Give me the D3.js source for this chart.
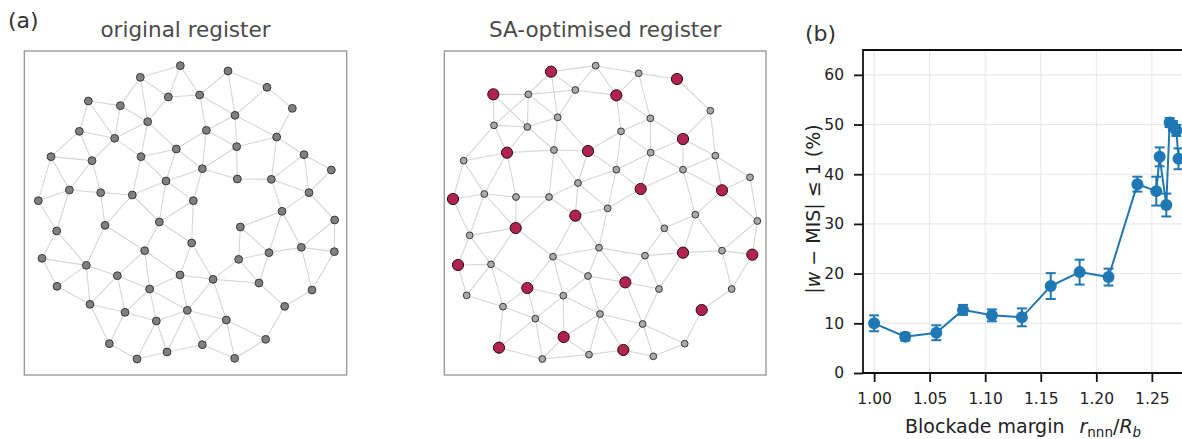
<!DOCTYPE html>
<html>
<head>
<meta charset="utf-8">
<script src="https://cdn.jsdelivr.net/npm/d3@7"></script>
<style>
  body { margin: 0; background: #fff; }
  text { font-family: "DejaVu Sans", sans-serif; }
</style>
</head>
<body>
<svg id="fig" width="1182" height="439"></svg>
<script>
// register sites, arbitrary units (0..1000 box)
var origSites = [
  [481,62],[624,78],[361,97],[741,127],[445,156],[539,150],[205,168],[301,182],
  [817,190],[645,211],[383,230],[559,256],[178,259],[770,276],[284,280],[650,305],
  [469,312],[852,329],[93,335],[216,347],[363,335],[547,371],[934,375],[652,402],
  [754,403],[438,408],[148,435],[242,443],[337,450],[867,443],[55,467],[520,467],
  [786,499],[944,525],[418,531],[255,541],[661,546],[110,558],[515,594],[374,617],
  [844,607],[747,623],[943,620],[656,643],[66,640],[199,661],[292,692],[480,690],
  [579,703],[717,714],[111,724],[389,732],[876,735],[210,778],[794,784],[502,796],
  [315,802],[409,828],[619,825],[737,883],[268,896],[547,899],[441,921],[351,942],
  [644,940]
];

var optSites = [
  [333,80],[467,62],[596,85],[711,102],[160,148],[265,148],[406,135],[529,151],
  [811,197],[631,220],[353,217],[162,241],[262,246],[543,259],[729,282],[201,323],
  [342,315],[444,318],[632,323],[826,332],[71,347],[529,374],[729,374],[930,397],
  [414,414],[602,432],[846,436],[39,462],[133,447],[228,456],[327,456],[503,490],
  [406,512],[766,509],[952,528],[227,549],[673,550],[89,571],[477,608],[339,635],
  [615,632],[729,623],[846,617],[937,629],[54,660],[153,658],[444,693],[556,712],
  [262,729],[657,732],[875,732],[80,751],[370,752],[189,785],[785,795],[480,807],
  [286,821],[608,837],[371,876],[734,896],[177,908],[550,915],[447,929],[307,942],
  [640,934]
];
// 1 = atom in the found MIS
var optMIS = [1,0,0,1,1,0,0,1, 0,0,0,0,0,0,1,1, 0,1,0,0,0,0,0,0,
              0,1,1,1,0,0,0,0, 1,0,0,1,0,0,0,0, 0,1,0,1,1,0,0,1,
              1,0,0,0,0,0,1,0, 0,0,1,0,1,1,0,0, 0];

var blockadeRadius = 142;

// panel (b)
var margin = [1.000,1.028,1.056,1.080,1.106,1.133,1.159,1.185,1.211,1.237,1.254,1.257,1.263,1.266,1.269,1.272,1.274];
var successPct = [10.0,7.3,8.1,12.7,11.6,11.2,17.5,20.3,19.3,38.0,36.6,43.5,33.8,50.4,49.7,48.8,43.1];
var successErr = [1.6,0.8,1.5,1.0,1.2,1.8,2.6,2.5,1.7,1.5,2.9,1.9,2.3,0.9,1.0,1.1,2.1];
var xTicks = [1.00,1.05,1.10,1.15,1.20,1.25];
var yTicks = [0,10,20,30,40,50,60];

var svg = d3.select('#fig');
var blue = '#1f77b4';

function links(sites) {
  var out = [];
  for (var i = 0; i < sites.length; i++)
    for (var j = i + 1; j < sites.length; j++) {
      var dx = sites[i][0] - sites[j][0], dy = sites[i][1] - sites[j][1];
      if (Math.sqrt(dx*dx + dy*dy) < blockadeRadius) out.push([sites[i], sites[j]]);
    }
  return out;
}

function drawRegister(sites, mis, x0, title, frameRight) {
  var x = d3.scaleLinear().domain([0, 1000]).range([x0, x0 + 1000/3]);
  var y = d3.scaleLinear().domain([0, 1000]).range([45, 45 + 1000/3]);
  var g = svg.append('g');

  g.append('rect')
    .attr('x', x(13)).attr('y', y(18))
    .attr('width', x(frameRight) - x(13)).attr('height', y(990) - y(18))
    .attr('fill', 'none').attr('stroke', '#9a9a9a').attr('stroke-width', 1.4);

  g.append('text')
    .attr('x', (x(13) + x(frameRight)) / 2).attr('y', 37)
    .attr('text-anchor', 'middle')
    .attr('font-size', '21.5px').attr('fill', '#4a4a4a')
    .text(title);

  g.append('g').selectAll('line')
    .data(links(sites))
    .enter().append('line')
    .attr('x1', function(d) { return x(d[0][0]); })
    .attr('y1', function(d) { return y(d[0][1]); })
    .attr('x2', function(d) { return x(d[1][0]); })
    .attr('y2', function(d) { return y(d[1][1]); })
    .attr('stroke', '#d6d6d6').attr('stroke-width', 1.1);

  g.append('g').selectAll('circle')
    .data(sites)
    .enter().append('circle')
    .attr('cx', function(d) { return x(d[0]); })
    .attr('cy', function(d) { return y(d[1]); })
    .attr('r', function(d, i) {
      if (!mis) return 3.9;
      return mis[i] ? 5.6 : 3.4;
    })
    .attr('fill', function(d, i) {
      if (!mis) return '#808080';
      return mis[i] ? '#b0234e' : '#a9a9a9';
    })
    .attr('stroke', function(d, i) { return (mis && mis[i]) ? '#2b0a14' : '#383838'; })
    .attr('stroke-width', 1);
}

drawRegister(origSites, null, 20, 'original register', 980);
drawRegister(optSites, optMIS, 440, 'SA-optimised register', 978);

svg.append('text').attr('x', 8).attr('y', 28).attr('font-size', '22px').attr('fill', '#333').text('(a)');
svg.append('text').attr('x', 805).attr('y', 41).attr('font-size', '22px').attr('fill', '#333').text('(b)');

// panel (b) chart
var x = d3.scaleLinear().domain([0.99, 1.30]).range([863, 863 + 0.31 * 1111]);
var y = d3.scaleLinear().domain([0, 65]).range([373, 50]);
var plot = svg.append('g');

plot.append('g').selectAll('line.gx')
  .data(xTicks).enter().append('line')
  .attr('x1', x).attr('x2', x).attr('y1', y(0)).attr('y2', y(65))
  .attr('stroke', '#e3e3e3').attr('stroke-width', 0.9);
plot.append('g').selectAll('line.gy')
  .data(yTicks).enter().append('line')
  .attr('x1', x(0.99)).attr('x2', x(1.30)).attr('y1', y).attr('y2', y)
  .attr('stroke', '#e3e3e3').attr('stroke-width', 0.9);

var xAxis = plot.append('g').attr('transform', 'translate(0,' + y(0) + ')')
  .call(d3.axisBottom(x).tickValues(xTicks).tickFormat(d3.format('.2f')).tickSize(9).tickPadding(11));
var yAxis = plot.append('g').attr('transform', 'translate(' + x(0.99) + ',0)')
  .call(d3.axisLeft(y).tickValues(yTicks).tickSize(9).tickPadding(10));
[xAxis, yAxis].forEach(function(a) {
  a.select('.domain').remove();
  a.selectAll('line').attr('stroke', '#111').attr('stroke-width', 1.8);
  a.selectAll('text').attr('font-size', '15.5px').attr('fill', '#222').attr('font-family', 'DejaVu Sans');
});

// spines
plot.append('path')
  .attr('d', 'M' + x(1.30) + ',' + y(65) + 'H' + x(0.99) + 'V' + y(0) + 'H' + x(1.30))
  .attr('fill', 'none').attr('stroke', '#111').attr('stroke-width', 1.8);

var pts = margin.map(function(m, i) { return { x: m, y: successPct[i], e: successErr[i] }; });

plot.append('path')
  .datum(pts)
  .attr('fill', 'none').attr('stroke', blue).attr('stroke-width', 2)
  .attr('d', d3.line().x(function(d) { return x(d.x); }).y(function(d) { return y(d.y); }));

var eb = plot.append('g').selectAll('g').data(pts).enter().append('g')
  .attr('stroke', blue).attr('stroke-width', 2);
eb.append('line')
  .attr('x1', function(d) { return x(d.x); }).attr('x2', function(d) { return x(d.x); })
  .attr('y1', function(d) { return y(d.y - d.e); }).attr('y2', function(d) { return y(d.y + d.e); });
eb.append('line')
  .attr('x1', function(d) { return x(d.x) - 5; }).attr('x2', function(d) { return x(d.x) + 5; })
  .attr('y1', function(d) { return y(d.y - d.e); }).attr('y2', function(d) { return y(d.y - d.e); });
eb.append('line')
  .attr('x1', function(d) { return x(d.x) - 5; }).attr('x2', function(d) { return x(d.x) + 5; })
  .attr('y1', function(d) { return y(d.y + d.e); }).attr('y2', function(d) { return y(d.y + d.e); });

plot.append('g').selectAll('circle')
  .data(pts).enter().append('circle')
  .attr('cx', function(d) { return x(d.x); })
  .attr('cy', function(d) { return y(d.y); })
  .attr('r', 6).attr('fill', blue);

// axis labels
var xl = svg.append('text').attr('x', 905).attr('y', 433)
  .attr('font-size', '19px').attr('fill', '#222');
xl.append('tspan').text('Blockade margin');
xl.append('tspan').attr('dx', 15).attr('font-style', 'italic').text('r');
xl.append('tspan').attr('font-size', '13.5px').attr('dy', 4).text('nnn');
xl.append('tspan').attr('dy', -4).text('/');
xl.append('tspan').attr('font-style', 'italic').text('R');
xl.append('tspan').attr('font-size', '13.5px').attr('font-style', 'italic').attr('dy', 4).text('b');

var yl = svg.append('text').attr('transform', 'translate(820,209) rotate(-90)')
  .attr('text-anchor', 'middle').attr('font-size', '19px').attr('fill', '#222');
yl.append('tspan').text('|');
yl.append('tspan').attr('font-style', 'italic').text('w');
yl.append('tspan').text(' \u2212 MIS| \u2264 1  (%)');
</script>
</body>
</html>
